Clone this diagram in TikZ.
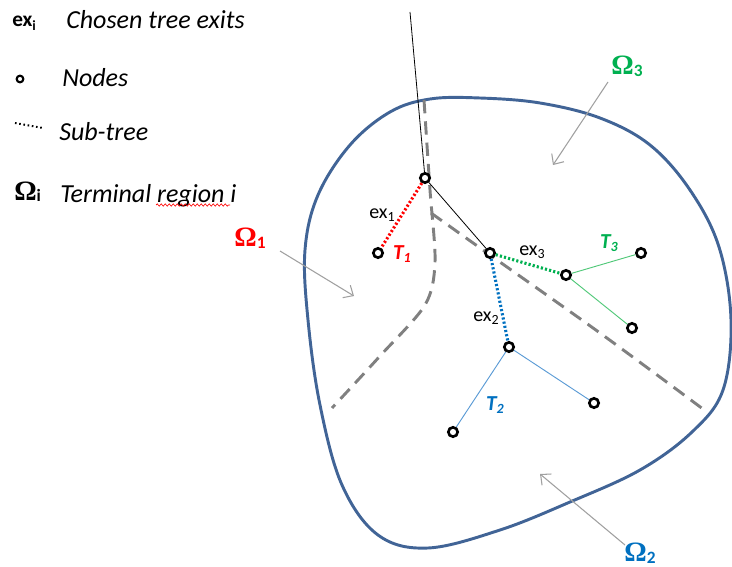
\documentclass[tikz,border=0pt]{standalone}
\usepackage{fontspec}
\setmainfont{Carlito}
\newfontfamily\omegafont{Liberation Serif}
\usepackage{tikz}
\usetikzlibrary{positioning, arrows.meta, decorations.pathmorphing}

\definecolor{blobblue}{RGB}{65,100,150}
\definecolor{exred}{RGB}{255,0,0}
\definecolor{exgreen}{RGB}{0,176,80}
\definecolor{exblue}{RGB}{0,112,192}
\definecolor{subgreen}{RGB}{80,200,120}
\definecolor{subblue}{RGB}{91,155,213}
\definecolor{splitgray}{RGB}{128,128,128}
\definecolor{pointgray}{RGB}{160,160,160}

\newcommand{\regionlabel}[1]{{\omegafont\bfseries\fontsize{21}{21}\selectfont Ω}\raisebox{-0.3ex}{\fontsize{13}{13}\selectfont\bfseries #1}}
\newcommand{\exitlabel}[1]{ex\raisebox{-0.35ex}{\fontsize{10.5}{10.5}\selectfont #1}}
\newcommand{\treelabel}[1]{T\raisebox{-0.35ex}{\fontsize{10.5}{10.5}\selectfont #1}}

\begin{document}
\begin{tikzpicture}[
    x=0.75pt, y=-0.75pt,
    treenode/.style={draw=black, circle, line width=2pt, minimum size=7pt, inner sep=0pt, fill=white},
    legend/.style={anchor=base west, font=\fontsize{19.5}{21}\selectfont\itshape, inner sep=0pt},
    exit/.style={line width=2.3pt, dash pattern=on 1.6pt off 1.6pt},
    split/.style={splitgray, line width=2.2pt, dash pattern=on 10pt off 6pt},
    pointer/.style={pointgray, line width=0.8pt, -{Straight Barb[length=6pt, width=11pt]}},
    exlbl/.style={font=\fontsize{15}{15}\selectfont, inner sep=0pt},
    tlbl/.style={font=\fontsize{16}{16}\selectfont\bfseries\itshape, inner sep=0pt},
]
\useasboundingbox (0,0) rectangle (732,567);

% legend
\node[anchor=base west, inner sep=0pt, font=\fontsize{16}{16}\selectfont\bfseries] (lgex) at (12,27) {\exitlabel{i}};
\node[legend] (lgexits) at (66,29) {Chosen tree exits};
\node[treenode, minimum size=5pt, line width=1.6pt] (lgnode) at (20,79) {};
\node[legend] (lgnodes) at (62,87) {Nodes};
\coordinate (lgdota) at (15,123);
\coordinate (lgdotb) at (43,128);
\draw[line width=1.5pt, dash pattern=on 1.2pt off 2pt] (lgdota) -- (lgdotb);
\node[legend] (lgsub) at (59,141) {Sub-tree};
\node[anchor=base west, inner sep=0pt] (lgomega) at (14,200) {\regionlabel{i}};
\node[legend] (lgregion) at (60,202) {Terminal region i};
\coordinate (wavya) at (156,205);
\coordinate (wavyb) at (230,205);
\draw[exred, line width=0.5pt, decorate, decoration={snake, amplitude=0.8pt, segment length=3pt}] (wavya) -- (wavyb);

% domain boundary
\draw[blobblue, line width=2.2pt] plot[smooth cycle, tension=0.6] coordinates {
    (430,99) (480,98) (540,103) (600,118) (650,145) (690,190) (719,247)
    (731,320) (723,390) (692,432) (640,470) (570,502) (500,530) (428,548)
    (378,535) (342,485) (320,405) (308,320) (305,250) (318,195) (350,145) (390,112)};

% region splits
\draw[split] plot[smooth, tension=0.5] coordinates {(424,100) (430,190) (435,262) (425,305) (380,356) (332,408)};
\draw[split] plot[smooth, tension=0.5] coordinates {(431,213) (490,255) (600,333) (707,412)};

% tree
\coordinate (root) at (410,12);
\node[treenode] (a) at (425,178) {};
\node[treenode] (t1) at (378,253) {};
\node[treenode] (b) at (490,253) {};
\node[treenode] (c) at (566,275) {};
\node[treenode] (c1) at (641,253) {};
\node[treenode] (c2) at (632,328) {};
\node[treenode] (d) at (509,347) {};
\node[treenode] (d1) at (453,432) {};
\node[treenode] (d2) at (594,403) {};

\draw[black, line width=0.6pt] (root) -- (a);
\draw[black, line width=0.6pt] (a) -- (b);
\draw[exit, exred] (a) -- (t1);
\draw[exit, exgreen] (b) -- (c);
\draw[exit, exblue] (b) -- (d);
\draw[subgreen, line width=0.7pt] (c) -- (c1);
\draw[subgreen, line width=0.7pt] (c) -- (c2);
\draw[subblue, line width=0.7pt] (d) -- (d1);
\draw[subblue, line width=0.7pt] (d) -- (d2);

\node[exlbl] (ex1) at (382,215) {\exitlabel{1}};
\node[exlbl] (ex3) at (532,252) {\exitlabel{3}};
\node[exlbl] (ex2) at (486,318) {\exitlabel{2}};
\node[tlbl, exred] (lt1) at (402,254) {\treelabel{1}};
\node[tlbl, exgreen] (lt3) at (609,243) {\treelabel{3}};
\node[tlbl, exblue] (lt2) at (495,405) {\treelabel{2}};

% terminal regions
\node[exred, inner sep=0pt] (om1) at (250,238) {\regionlabel{1}};
\node[exgreen, inner sep=0pt] (om3) at (627,66) {\regionlabel{3}};
\node[exblue, inner sep=0pt] (om2) at (640,553) {\regionlabel{2}};
\coordinate (om1tail) at (280,251);
\coordinate (om3tail) at (608,82);
\coordinate (om2tail) at (625,545);
\coordinate (om1tip) at (354,296);
\coordinate (om3tip) at (553,165);
\coordinate (om2tip) at (540,474);
\draw[pointer] (om1tail) -- (om1tip);
\draw[pointer] (om3tail) -- (om3tip);
\draw[pointer] (om2tail) -- (om2tip);
\end{tikzpicture}
\end{document}
